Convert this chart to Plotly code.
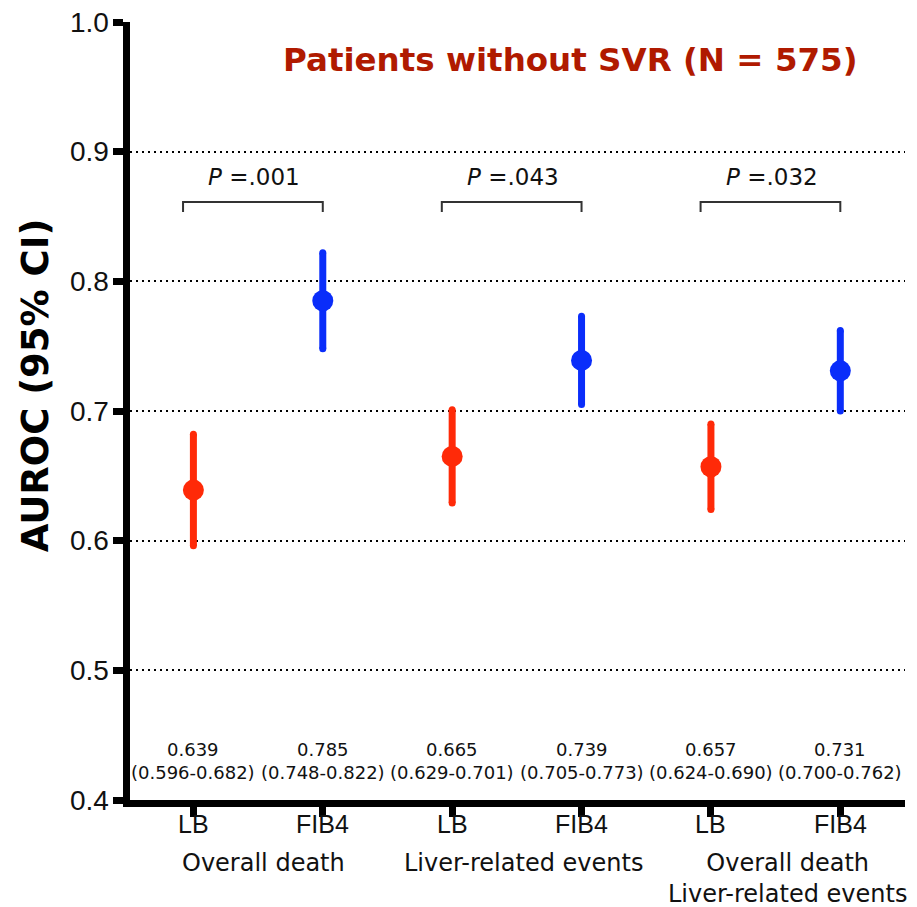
import plotly.graph_objects as go

# ---- data ----
positions = [0, 1, 2, 3, 4, 5]
markers = ["LB", "FIB4", "LB", "FIB4", "LB", "FIB4"]
auroc = [0.639, 0.785, 0.665, 0.739, 0.657, 0.731]
ci_low = [0.596, 0.748, 0.629, 0.705, 0.624, 0.700]
ci_high = [0.682, 0.822, 0.701, 0.773, 0.690, 0.762]
outcome_labels = ["Overall death", "Liver-related events", "Overall death<br>Liver-related events"]
outcome_centers = [0.54, 2.55, 4.59]
p_values = [".001", ".043", ".032"]
y_ticks = [0.4, 0.5, 0.6, 0.7, 0.8, 0.9, 1.0]

RED = "#FF2A08"
BLUE = "#0A2DFA"
colors = [RED if m == "LB" else BLUE for m in markers]

fig = go.Figure()

# CI bars (with round-looking caps)
for x, a, lo, hi, c in zip(positions, auroc, ci_low, ci_high, colors):
    fig.add_trace(go.Scatter(
        x=[x, x], y=[lo, hi], mode="lines+markers",
        line=dict(color=c, width=7),
        marker=dict(size=7, color=c, line=dict(width=0)),
        showlegend=False, hoverinfo="skip"))
# point estimates
fig.add_trace(go.Scatter(
    x=positions, y=auroc, mode="markers",
    marker=dict(size=21, color=colors, line=dict(width=0)),
    showlegend=False))

# value labels
for x, a, lo, hi in zip(positions, auroc, ci_low, ci_high):
    fig.add_annotation(x=x, y=0.4301, xref="x", yref="y",
                       text=f"{a:.3f}<br>({lo:.3f}-{hi:.3f})",
                       showarrow=False, xanchor="center", yanchor="middle",
                       font=dict(family="DejaVu Sans", size=18, color="#111"))

# P-value brackets
for i, p in enumerate(p_values):
    x0 = positions[2 * i] - 0.08
    x1 = positions[2 * i + 1]
    fig.add_shape(type="path", xref="x", yref="y",
                  path=f"M {x0} 0.8535 L {x0} 0.8612 L {x1} 0.8612 L {x1} 0.8535",
                  line=dict(color="#333", width=2))
    fig.add_annotation(x=positions[2 * i] + 0.47, y=0.8805, xref="x", yref="y",
                       text=f"<i>P</i> ={p}",
                       showarrow=False, xanchor="center", yanchor="middle",
                       font=dict(family="DejaVu Sans", size=23, color="#111"))

# category tick labels
for x, m in zip(positions, markers):
    fig.add_annotation(x=x, y=0, xref="x", yref="paper",
                       yanchor="top", yshift=-8, xanchor="center",
                       text=m, showarrow=False,
                       font=dict(family="Liberation Sans", size=25, color="#111"))

# y tick labels
for v in y_ticks:
    fig.add_annotation(x=0, y=v, xref="paper", yref="y",
                       xanchor="right", yanchor="middle", xshift=-19,
                       text=f"{v:.1f}", showarrow=False,
                       font=dict(family="Liberation Sans", size=28, color="#111"))

# outcome labels
for c, lab in zip(outcome_centers, outcome_labels):
    fig.add_annotation(x=c, y=0, xref="x", yref="paper",
                       yanchor="top", yshift=-47, xanchor="center",
                       text=lab, showarrow=False,
                       font=dict(family="DejaVu Sans", size=24, color="#111"))

# title
fig.add_annotation(x=0.569, y=0.951, xref="paper", yref="paper",
                   xanchor="center", yanchor="middle",
                   text="<b>Patients without SVR (N = 575)</b>", showarrow=False,
                   font=dict(family="DejaVu Sans", size=32.5, color="#B01A00"))
# y axis title
fig.add_annotation(x=-0.1226, y=0.533, xref="paper", yref="paper",
                   xanchor="center", yanchor="middle",
                   text="<b>AUROC (95% CI)</b>", showarrow=False, textangle=-90,
                   font=dict(family="DejaVu Sans", size=37, color="#000"))

fig.update_layout(
    width=917, height=907,
    margin=dict(l=130, r=12, t=22, b=107, autoexpand=False),
    plot_bgcolor="white", paper_bgcolor="white",
    xaxis=dict(range=[-0.49, 5.5], tickvals=positions, ticktext=markers,
               showticklabels=False, automargin=False,
               showline=True, linecolor="black", linewidth=7,
               ticks="outside", ticklen=10, tickwidth=7, tickcolor="black",
               showgrid=False, zeroline=False),
    yaxis=dict(range=[0.4, 1.0], tickvals=y_ticks, automargin=False,
               ticktext=[f"{v:.1f}" for v in y_ticks], showticklabels=False,
               showline=True, linecolor="black", linewidth=7,
               ticks="outside", ticklen=10, tickwidth=7, tickcolor="black",
               showgrid=True, gridcolor="black", gridwidth=2, griddash="2px,4px",
               zeroline=False),
)

fig.write_html("out.html")
